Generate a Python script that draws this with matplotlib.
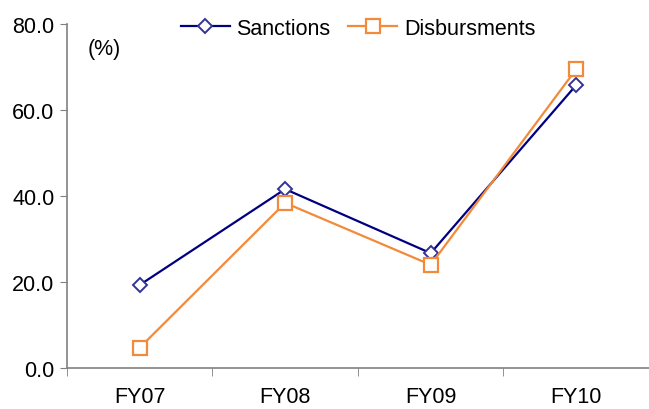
import matplotlib.pyplot as plt
import numpy as np

plt.rcParams['font.family'] = ['Liberation Sans', 'DejaVu Sans']

years = ['FY07', 'FY08', 'FY09', 'FY10']
sanctions = [19.3, 41.6, 26.7, 65.8]
disbursments = [4.7, 38.4, 24.0, 69.5]

fig = plt.figure(figsize=(6.49, 4.10), dpi=100)
ax = fig.add_axes([0.103, 0.1, 0.897, 0.839])

x = np.arange(len(years))
ax.plot(x, sanctions, color='#000080', lw=1.6, marker='D', markersize=7,
        markerfacecolor='white', markeredgecolor='#333399', markeredgewidth=1.4,
        label='Sanctions')
ax.plot(x, disbursments, color='#F28A3A', lw=1.6, marker='s', markersize=10,
        markerfacecolor='white', markeredgecolor='#F28A3A', markeredgewidth=1.6,
        label='Disbursments')

ax.set_xlim(-0.5, len(years) - 0.5)
ax.set_ylim(0, 80)
ax.set_yticks(np.arange(0, 81, 20))
ax.set_yticklabels([f'{v:.1f}' for v in range(0, 81, 20)], fontsize=15.5)

# category labels centred, tick marks at the boundaries
ax.set_xticks(x)
ax.set_xticklabels(years, fontsize=15.5)
ax.tick_params(axis='x', length=0, pad=13)
ax.set_xticks(np.arange(-0.5, len(years), 1), minor=True)
ax.tick_params(axis='x', which='minor', length=6, color='#808080', direction='out')
ax.tick_params(axis='y', length=5, color='#808080', direction='out', pad=4)

for side in ['top', 'right']:
    ax.spines[side].set_visible(False)
for side in ['left', 'bottom']:
    ax.spines[side].set_color('#808080')
    ax.spines[side].set_linewidth(1.2)

ax.text(0.035, 0.93, '(%)', transform=ax.transAxes, fontsize=15.5, va='center')

ax.legend(loc='upper center', bbox_to_anchor=(0.5, 1.075), ncol=2, frameon=False,
          fontsize=15.5, handlelength=2.3, handletextpad=0.3, columnspacing=0.8)

fig.savefig('out.png', dpi=100)
